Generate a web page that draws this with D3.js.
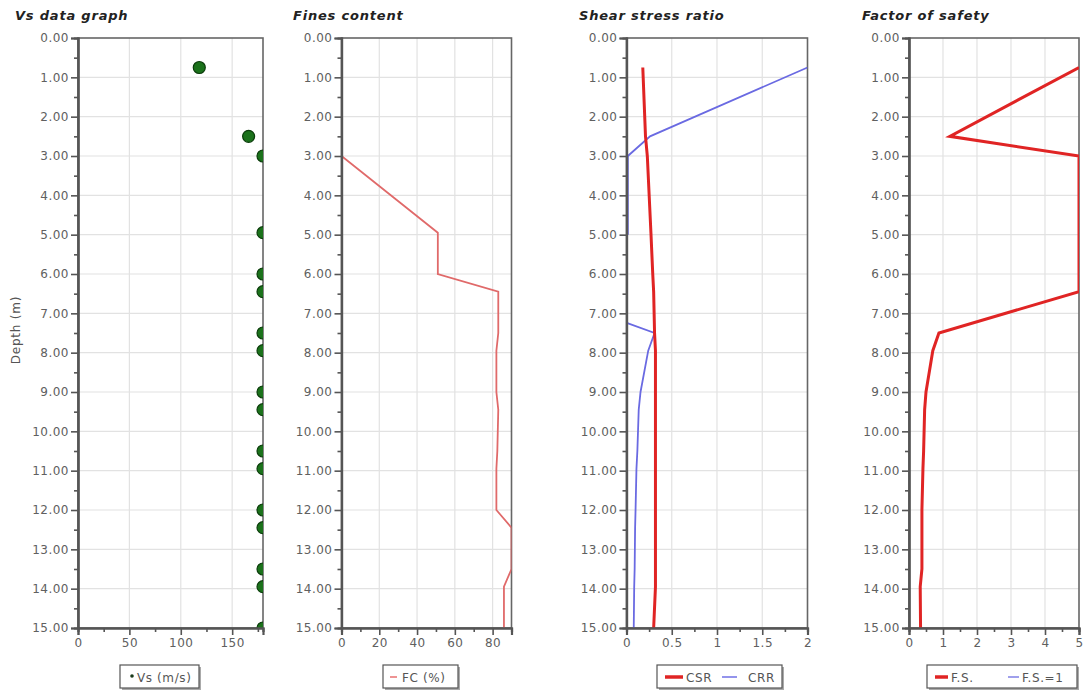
<!DOCTYPE html>
<html><head><meta charset="utf-8">
<script src="https://cdn.jsdelivr.net/npm/d3@7"></script>
<style>
body{margin:0;background:#fff;}
text{font-family:"DejaVu Sans",Verdana,sans-serif;}
</style></head>
<body><svg id="c" width="1086" height="697"></svg>
<script>
// ---------- data ----------
const vsDepth = [0.75,2.5,3.0,4.95,6.0,6.45,7.5,7.95,9.0,9.45,10.5,10.95,12.0,12.45,13.5,13.95,15.0];
const vsValue = [118,166,180,180,180,180,180,180,180,180,180,180,180,180,180,180,180];

const fcDepth = [3.0,4.95,6.0,6.45,7.5,7.95,9.0,9.45,10.5,10.95,12.0,12.45,13.5,13.95,15.0];
const fcValue = [0,51,51,83,83,82,82,83,82.5,82,82,90,90,86,86];

const csrDepth = [0.75,2.5,3.0,4.95,6.0,6.45,7.5,7.95,9.0,9.45,10.5,10.95,12.0,12.45,13.5,13.95,15.0];
const csrValue = [0.18,0.21,0.23,0.27,0.29,0.30,0.31,0.32,0.32,0.32,0.32,0.32,0.32,0.32,0.32,0.32,0.30];

const crrDepth = [0.75,2.5,3.0,5.0,6.0,7.25,7.5,7.95,9.0,9.45,10.5,10.95,12.0,12.45,13.5,13.95,15.0];
const crrValue = [2.0,0.26,0.015,0.015,null,0.01,0.31,0.24,0.155,0.135,0.12,0.11,0.10,0.095,0.09,0.085,0.08];

const fsDepth = [0.75,2.5,3.0,4.95,6.0,6.45,7.5,7.95,9.0,9.45,10.5,10.95,12.0,12.45,13.5,13.95,15.0];
const fsValue = [5.0,1.2,5.0,5.0,5.0,5.0,0.88,0.7,0.5,0.46,0.43,0.41,0.38,0.38,0.38,0.33,0.34];

const depthTicks = d3.range(0,15.01,1);
const titles = ["Vs data graph","Fines content","Shear stress ratio","Factor of safety"];

// ---------- layout ----------
const svg = d3.select("#c");
const plotTop = 38, plotBottom = 628;
const y = d3.scaleLinear().domain([0,15]).range([plotTop,plotBottom]);

const panels = [
  {title:titles[0], tx:15, left:78, right:263, dom:[0,180], major:d3.range(0,151,50), minor:d3.range(25,180,50), fmt:d3.format("d"),
   legend:{x0:120,x1:199,items:[{type:"dot",x:132,tx:137,label:"Vs (m/s)"}]}},
  {title:titles[1], tx:293, left:341.5, right:511.5, dom:[0,90], major:d3.range(0,81,20), minor:d3.range(10,91,20), fmt:d3.format("d"),
   legend:{x0:383,x1:458,items:[{type:"line",x:390,w:7,color:"#e87070",sw:1.5,tx:402,label:"FC (%)"}]}},
  {title:titles[2], tx:579, left:626.5, right:807.5, dom:[0,2], major:[0,0.5,1,1.5,2], minor:[0.25,0.75,1.25,1.75], fmt:d3.format(""),
   legend:{x0:657,x1:782,items:[{type:"line",x:665,w:18,color:"#e02424",sw:3.5,tx:686,label:"CSR"},{type:"line",x:722,w:15,color:"#7070e6",sw:1.5,tx:748,label:"CRR"}]}},
  {title:titles[3], tx:862, left:909, right:1079, dom:[0,5], major:[0,1,2,3,4,5], minor:[0.5,1.5,2.5,3.5,4.5], fmt:d3.format("d"),
   legend:{x0:927,x1:1077,items:[{type:"line",x:935,w:13,color:"#e02424",sw:3.5,tx:951,label:"F.S."},{type:"line",x:1008,w:11,color:"#8080e6",sw:1.5,tx:1022,label:"F.S.=1"}]}}
];

panels.forEach((p,i)=>{
  p.x = d3.scaleLinear().domain(p.dom).range([p.left,p.right]);
  const g = svg.append("g");
  g.append("text").attr("x",p.tx).attr("y",20).attr("font-size",13).attr("font-weight","bold")
   .attr("font-style","italic").attr("fill","#222").attr("letter-spacing",0.8).text(p.title);
  svg.append("clipPath").attr("id","clip"+i).append("rect")
    .attr("x",p.left).attr("y",plotTop).attr("width",p.right-p.left).attr("height",plotBottom-plotTop);
  g.append("g").selectAll("line").data(depthTicks.slice(1,-1)).join("line")
    .attr("x1",p.left).attr("x2",p.right).attr("y1",d=>y(d)).attr("y2",d=>y(d))
    .attr("stroke","#e2e2e2").attr("stroke-width",1.2);
  g.append("g").selectAll("line").data(p.major.filter(v=>v>p.dom[0]&&v<p.dom[1])).join("line")
    .attr("y1",plotTop).attr("y2",plotBottom).attr("x1",d=>p.x(d)).attr("x2",d=>p.x(d))
    .attr("stroke","#e2e2e2").attr("stroke-width",1.2);
  g.append("rect").attr("x",p.left).attr("y",plotTop).attr("width",p.right-p.left).attr("height",plotBottom-plotTop)
    .attr("fill","none").attr("stroke","#666").attr("stroke-width",1.6);
});

// ---------- data marks ----------
const lineGen = (p,dep)=>d3.line().defined(v=>v!=null).x(v=>p.x(v)).y((v,i)=>y(dep[i]));

svg.append("g").attr("clip-path","url(#clip0)").selectAll("circle").data(vsValue).join("circle")
  .attr("cx",d=>panels[0].x(d)).attr("cy",(d,i)=>y(vsDepth[i])).attr("r",6)
  .attr("fill","#1b721b").attr("stroke","#0b3d0b").attr("stroke-width",1.2);

svg.append("path").attr("clip-path","url(#clip1)").attr("d",lineGen(panels[1],fcDepth)(fcValue))
  .attr("fill","none").attr("stroke","#e06a6a").attr("stroke-width",1.8);

svg.append("path").attr("clip-path","url(#clip2)").attr("d",lineGen(panels[2],crrDepth)(crrValue))
  .attr("fill","none").attr("stroke","#6a6ae2").attr("stroke-width",1.8);
svg.append("path").attr("clip-path","url(#clip2)").attr("d",lineGen(panels[2],csrDepth)(csrValue))
  .attr("fill","none").attr("stroke","#e02424").attr("stroke-width",3);

svg.append("path").attr("clip-path","url(#clip3)").attr("d",lineGen(panels[3],fsDepth)(fsValue))
  .attr("fill","none").attr("stroke","#e02424").attr("stroke-width",3);

// ---------- axes ----------
panels.forEach((p,i)=>{
  const g = svg.append("g");
  const ya = g.append("g").attr("transform",`translate(${p.left},0)`)
    .call(d3.axisLeft(y).tickValues(depthTicks).tickFormat(d3.format(".2f")).tickSize(7).tickPadding(2));
  const ym = g.append("g").attr("transform",`translate(${p.left},0)`)
    .call(d3.axisLeft(y).tickValues(d3.range(0.5,15,1)).tickFormat("").tickSize(4));
  const xa = g.append("g").attr("transform",`translate(0,${plotBottom})`)
    .call(d3.axisBottom(p.x).tickValues(p.major).tickFormat(p.fmt).tickSize(7).tickPadding(3));
  const xm = g.append("g").attr("transform",`translate(0,${plotBottom})`)
    .call(d3.axisBottom(p.x).tickValues(p.minor).tickFormat("").tickSize(4));
  [ya,ym,xa,xm].forEach(a=>{
    a.select(".domain").attr("stroke","#555").attr("stroke-width",2.2);
    a.selectAll(".tick line").attr("stroke","#555").attr("stroke-width",1.6);
    a.selectAll("text").attr("font-size",12).attr("fill","#606060").attr("letter-spacing",0.5)
      .attr("font-family","DejaVu Sans, Verdana, sans-serif");
  });
  const L = p.legend;
  const lg = g.append("g");
  lg.append("rect").attr("x",L.x0+2).attr("y",667).attr("width",L.x1-L.x0).attr("height",23).attr("fill","#aaa");
  lg.append("rect").attr("x",L.x0).attr("y",665).attr("width",L.x1-L.x0).attr("height",23).attr("fill","#fff")
    .attr("stroke","#555").attr("stroke-width",1.2);
  L.items.forEach(it=>{
    if(it.type==="dot"){
      lg.append("circle").attr("cx",it.x).attr("cy",676).attr("r",1.8).attr("fill","#1a3a1a");
    } else {
      lg.append("line").attr("x1",it.x).attr("x2",it.x+it.w).attr("y1",677).attr("y2",677)
        .attr("stroke",it.color).attr("stroke-width",it.sw);
    }
    lg.append("text").attr("x",it.tx).attr("y",681.5).attr("font-size",12).attr("fill","#555")
      .attr("letter-spacing",0.6).text(it.label);
  });
});

svg.append("text").attr("transform","translate(20,330) rotate(-90)").attr("text-anchor","middle")
  .attr("font-size",12).attr("letter-spacing",0.8).attr("fill","#555").text("Depth (m)");
</script>
</body></html>
